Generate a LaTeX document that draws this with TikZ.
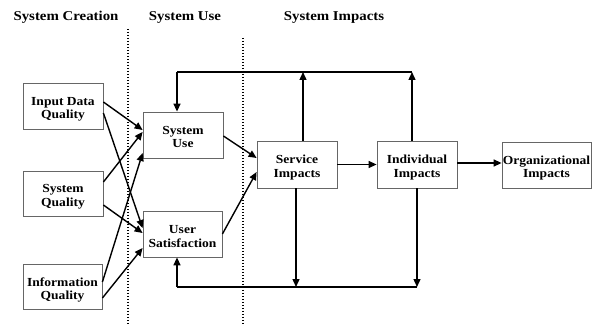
\documentclass[tikz,border=0pt]{standalone}
\usepackage{fontspec}
\setmainfont{Liberation Serif}[FakeStretch=1.1]
\usetikzlibrary{arrows.meta,calc}
\begin{document}
\begin{tikzpicture}[x=1pt,y=-1pt,
  box/.style={draw=black!60,line width=0.8pt,fill=white,align=center,inner sep=0pt,
    text height=26pt,text depth=0pt,
    font=\fontsize{12.3}{13.5}\selectfont\bfseries},
  head/.style={font=\fontsize{13.5}{15}\selectfont\bfseries,inner sep=0pt},
  conn/.style={line width=1.4pt,-{Triangle[length=8pt,width=7pt]}},
  plain/.style={line width=1.4pt},
  sep/.style={line width=1.3pt,dash pattern=on 1.3pt off 1.7pt}]
\useasboundingbox (0,0) rectangle (592,326);
% headers
\node[head] (h1) at (66,17) {System Creation};
\node[head] (h2) at (185,17) {System Use};
\node[head] (h3) at (334,17) {System Impacts};
% separators
\coordinate (d1a) at (128,29); \coordinate (d1b) at (128,326);
\coordinate (d2a) at (243,38); \coordinate (d2b) at (243,326);
\draw[sep] (d1a) -- (d1b);
\draw[sep] (d2a) -- (d2b);
% boxes
\node[box,minimum width=80pt,minimum height=46pt] (idq) at (63,106) {Input Data\\Quality};
\node[box,minimum width=80pt,minimum height=45pt] (sq) at (63,193.5) {System\\Quality};
\node[box,minimum width=79pt,minimum height=45pt] (iq) at (62.5,286.5) {Information\\Quality};
\node[box,minimum width=80pt,minimum height=46pt] (su) at (183,135) {System\\Use};
\node[box,minimum width=79pt,minimum height=46pt] (us) at (182.5,234) {User\\Satisfaction};
\node[box,minimum width=80pt,minimum height=47pt] (si) at (297,164.5) {Service\\Impacts};
\node[box,minimum width=80pt,minimum height=47pt] (ii) at (417,164.5) {Individual\\Impacts};
\node[box,minimum width=89pt,minimum height=46pt] (oi) at (546.5,165) {Organizational\\Impacts};
% left connectors
\draw[conn] ($(idq.east)+(0,-4)$) -- ($(su.west)+(0,-5)$);
\draw[conn] ($(idq.east)+(0,7)$) -- ($(us.west)+(0,-6)$);
\draw[conn] ($(sq.east)+(0,-11.5)$) -- ($(su.west)+(0,-3)$);
\draw[conn] ($(sq.east)+(0,11.5)$) -- ($(us.west)+(0,-1)$);
\draw[conn] ($(iq.east)+(0,-4.5)$) -- ($(su.west)+(0,18)$);
\draw[conn] ($(iq.east)+(0,11.5)$) -- ($(us.west)+(0,14)$);
% middle
\draw[conn] ($(su.east)+(0,1)$) -- ($(si.west)+(0,-6.5)$);
\draw[conn] (us.east) -- ($(si.west)+(0,7.5)$);
\draw[conn] (si.east) -- (ii.west);
\draw[conn] ($(ii.east)+(0,-1.5)$) -- ($(oi.west)+(0,-2)$);
% feedback top
\coordinate (tl) at (177,72);
\coordinate (ts) at (303,72);
\coordinate (ti) at (412,72);
\draw[conn] (si.north -| ts) -- (ts);
\draw[conn] (ii.north -| ti) -- (ti);
\draw[plain] (ti) -- (tl);
\draw[conn] (tl) -- (su.north -| tl);
% feedback bottom
\coordinate (bl) at (177,287);
\coordinate (bs) at (296,287);
\coordinate (bi) at (417,287);
\draw[conn] (si.south -| bs) -- (bs);
\draw[conn] (ii.south -| bi) -- (bi);
\draw[plain] (bi) -- (bl);
\draw[conn] (bl) -- (us.south -| bl);
\end{tikzpicture}
\end{document}
